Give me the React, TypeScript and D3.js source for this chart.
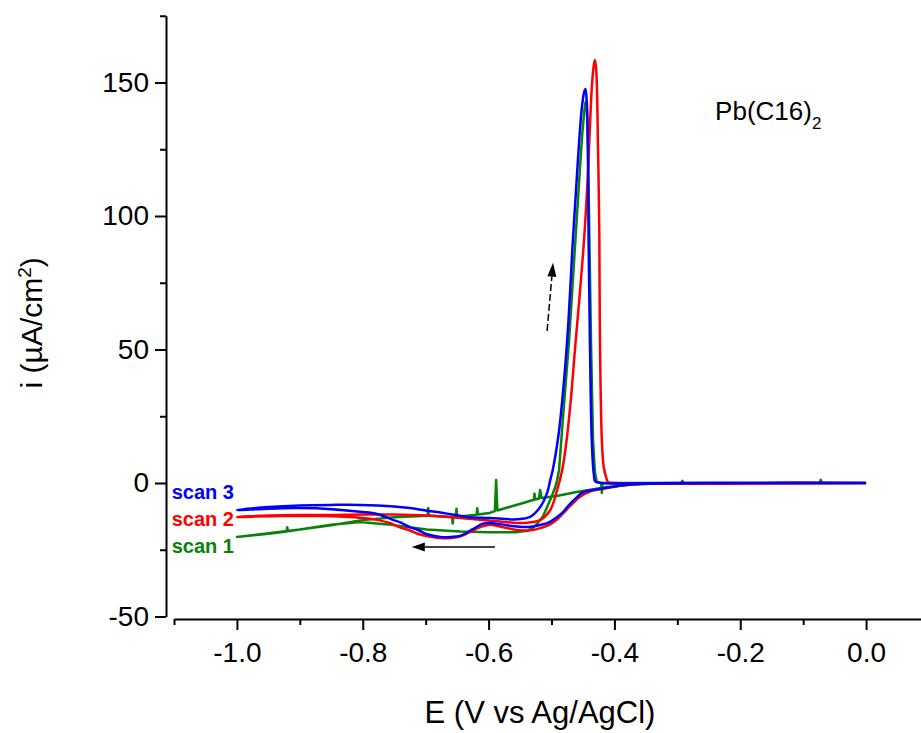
import React, { useEffect, useRef } from "react";
import * as d3 from "d3";

const W = 921;
const H = 733;

// x axis: potential (V vs Ag/AgCl), y axis: current density (uA/cm2)
const xMajor = [-1.0, -0.8, -0.6, -0.4, -0.2, 0.0];
const xMinor = [-1.1, -0.9, -0.7, -0.5, -0.3, -0.1, 0.1];
const yMajor = [-50, 0, 50, 100, 150];
const yMinor = [-25, 25, 75, 125, 175];

// scan 1 (green) - cathodic sweep from 0 V then anodic sweep back
const scan1: [number, number][] = [
  [0, 0], [-0.07, 0], [-0.072, 1.2], [-0.074, 0], [-0.29, 0], [-0.292, 0.8], [-0.294, 0],
  [-0.36, -0.3], [-0.375, -0.7], [-0.412, -1.5], [-0.44, -2.6], [-0.46, -3.4], [-0.49, -4.8],
  [-0.516, -5.6], [-0.518, -2.6], [-0.52, -5.8], [-0.526, -6.2], [-0.527, -4], [-0.528, -6.3],
  [-0.545, -7.5], [-0.57, -9.2], [-0.586, -10.3], [-0.588, 1.1], [-0.59, -10.5], [-0.598, -11.2],
  [-0.617, -11.8], [-0.618, -9.5], [-0.619, -11.9], [-0.65, -12.6], [-0.651, -9.6], [-0.652, -12.6],
  [-0.656, -12.7], [-0.657, -15.2], [-0.658, -12.7], [-0.695, -12.3], [-0.696, -9.4], [-0.697, -12.3],
  [-0.75, -12.8], [-0.804, -14], [-0.85, -15.8], [-0.9, -17.4], [-0.919, -18.1], [-0.92, -16.6],
  [-0.921, -18.2], [-0.95, -19], [-1.0, -20.2],
  [-0.95, -18.8], [-0.9, -17.4], [-0.85, -15.6], [-0.804, -14.6], [-0.76, -15.5], [-0.72, -16.8],
  [-0.698, -17.4], [-0.645, -18.2], [-0.6, -18.4], [-0.555, -18.4], [-0.54, -18], [-0.53, -16.9],
  [-0.522, -15], [-0.514, -12.7], [-0.507, -9], [-0.5, -5.2], [-0.494, -1.5], [-0.491, 1.1],
  [-0.488, 4.9], [-0.482, 23.6], [-0.472, 53.6], [-0.462, 91], [-0.455, 117], [-0.451, 131],
  [-0.448, 139], [-0.446, 142.5], [-0.445, 143], [-0.444, 141], [-0.443, 135], [-0.441, 110],
  [-0.439, 80], [-0.437, 50], [-0.434, 16], [-0.431, 4], [-0.428, 0.5], [-0.421, 0], [-0.42, -3.7],
  [-0.419, 0], [-0.3, 0], [0, 0],
];

// scan 2 (red)
const scan2: [number, number][] = [
  [0, 0], [-0.2, 0], [-0.375, -0.6], [-0.412, -1.9], [-0.439, -3.2], [-0.455, -5.2],
  [-0.47, -8.5], [-0.482, -11.5], [-0.491, -13.6], [-0.502, -15.5], [-0.518, -16.9],
  [-0.53, -17.6], [-0.545, -17.8], [-0.56, -17.4], [-0.582, -16.3], [-0.598, -15.6],
  [-0.614, -16.6], [-0.63, -18.4], [-0.645, -20], [-0.66, -20.6], [-0.677, -20.6],
  [-0.695, -20], [-0.709, -19.3], [-0.725, -17.8], [-0.741, -16.6], [-0.757, -15],
  [-0.775, -13.9], [-0.8, -13.1], [-0.83, -12.6], [-0.87, -12.4], [-0.93, -12.4], [-1.0, -12.7],
  [-0.95, -12.2], [-0.9, -12], [-0.85, -12], [-0.804, -11.8], [-0.75, -11.8], [-0.698, -12.2],
  [-0.645, -13.1], [-0.6, -14], [-0.565, -14.8], [-0.545, -15], [-0.53, -14.6], [-0.518, -13.9],
  [-0.502, -10.1], [-0.491, -2.6], [-0.483, 4.9], [-0.476, 16], [-0.469, 32], [-0.462, 52],
  [-0.455, 71], [-0.448, 92], [-0.443, 112], [-0.439, 133], [-0.436, 148], [-0.433, 156],
  [-0.431, 158.4], [-0.429, 155], [-0.426, 124.7], [-0.424, 93.6], [-0.423, 53.6], [-0.42, 16.1],
  [-0.417, 6], [-0.413, 2], [-0.41, 0.3], [-0.4, 0], [0, 0],
];

// scan 3 (blue)
const scan3: [number, number][] = [
  [0, 0], [-0.2, 0], [-0.375, -0.6], [-0.412, -1.8], [-0.434, -2.6], [-0.45, -3.4],
  [-0.459, -5.2], [-0.467, -7], [-0.475, -9], [-0.483, -11.2], [-0.491, -12.7],
  [-0.505, -14.8], [-0.518, -15.7], [-0.53, -16.3], [-0.545, -16.5], [-0.56, -16.2],
  [-0.58, -15.5], [-0.598, -15], [-0.61, -15.3], [-0.625, -17.3], [-0.645, -19.8],
  [-0.66, -20.2], [-0.677, -20.2], [-0.698, -19.2], [-0.712, -17.6], [-0.725, -16.5],
  [-0.74, -14.8], [-0.752, -13.8], [-0.777, -11.6], [-0.804, -10.8], [-0.85, -9.8],
  [-0.9, -9.4], [-0.95, -9.6], [-1.0, -10.1],
  [-0.95, -9], [-0.9, -8.4], [-0.85, -8.2], [-0.804, -8.2], [-0.75, -8.8], [-0.725, -9.4],
  [-0.7, -10.3], [-0.672, -11.2], [-0.634, -12.7], [-0.598, -13.1], [-0.555, -13.6],
  [-0.534, -12.7], [-0.518, -9], [-0.507, -3.7], [-0.502, 1.1], [-0.498, 4.9], [-0.49, 16],
  [-0.486, 23.6], [-0.475, 53.6], [-0.466, 91], [-0.458, 121], [-0.452, 140], [-0.448, 146.5],
  [-0.446, 147.6], [-0.444, 143], [-0.442, 125], [-0.441, 90], [-0.439, 54], [-0.436, 16],
  [-0.433, 4], [-0.43, 0.5], [-0.42, 0], [-0.3, 0], [0, 0],
];

const series = [
  { name: "scan 1", color: "#0a820a", data: scan1, smooth: false },
  { name: "scan 2", color: "#ff0000", data: scan2, smooth: true },
  { name: "scan 3", color: "#0000ff", data: scan3, smooth: true },
];

// sweep direction arrows [from, to] in data units
const arrowUp: [number, number][] = [[-0.507, 57], [-0.4975, 82.5]];
const arrowLeft: [number, number][] = [[-0.59, -24], [-0.722, -24]];

const FONT = "'Liberation Sans', Arial, sans-serif";

export default function App() {
  const ref = useRef<SVGSVGElement>(null);

  useEffect(() => {
    const svg = d3.select(ref.current);
    svg.selectAll("*").remove();

    const x = d3.scaleLinear().domain([-1.1, 0.1]).range([174, 929]);
    const y = d3.scaleLinear().domain([-50, 175]).range([616.5, 15.75]);

    const yAxisX = 166;
    const xAxisY = 619;

    // y axis
    const gy = svg.append("g").attr("transform", `translate(${yAxisX},0)`);
    gy.call(
      d3.axisLeft(y).tickValues(yMajor).tickSize(11).tickSizeOuter(0).tickPadding(6)
        .tickFormat((d: any) => String(d))
    );
    gy.append("g").call(
      d3.axisLeft(y).tickValues(yMinor).tickSize(6).tickSizeOuter(0).tickFormat(() => "")
    ).select(".domain").remove();

    // x axis
    const gx = svg.append("g").attr("transform", `translate(0,${xAxisY})`);
    gx.call(
      d3.axisBottom(x).tickValues(xMajor).tickSize(11).tickSizeOuter(0).tickPadding(12)
        .tickFormat((d: any) => (+d).toFixed(1))
    );
    gx.append("g").call(
      d3.axisBottom(x).tickValues(xMinor).tickSize(6).tickSizeOuter(0).tickFormat(() => "")
    ).select(".domain").remove();

    svg.selectAll(".domain, .tick line")
      .attr("stroke", "#000")
      .attr("stroke-width", 2);
    svg.selectAll(".tick text")
      .attr("fill", "#000")
      .style("font-family", FONT)
      .style("font-size", "28px");

    // curves
    const smoothLine = d3.line<[number, number]>()
      .x(d => x(d[0]))
      .y(d => y(d[1]))
      .curve(d3.curveCatmullRom.alpha(0.5));
    const rawLine = d3.line<[number, number]>()
      .x(d => x(d[0]))
      .y(d => y(d[1]));

    series.forEach(s => {
      svg.append("path")
        .datum(s.data)
        .attr("fill", "none")
        .attr("stroke", s.color)
        .attr("stroke-width", 2.5)
        .attr("stroke-linejoin", "round")
        .attr("d", s.smooth ? smoothLine : rawLine);
    });

    // series labels at the start of each curve
    const labelY = [-26.2, -16.1, -6];
    series.forEach((s, k) => {
      svg.append("text")
        .attr("x", x(-1.0) - 3)
        .attr("y", y(labelY[k]))
        .attr("text-anchor", "end")
        .attr("fill", s.color)
        .style("font-family", FONT)
        .style("font-weight", "bold")
        .style("font-size", "20px")
        .text(s.name);
    });

    // arrows
    const drawHead = (p0: [number, number], p1: [number, number], len: number, half: number) => {
      const dx = p1[0] - p0[0], dy = p1[1] - p0[1];
      const L = Math.hypot(dx, dy);
      const ux = dx / L, uy = dy / L;
      const bx = p1[0] - ux * len, by = p1[1] - uy * len;
      svg.append("path")
        .attr("d", `M${p1[0]},${p1[1]}L${bx - uy * half},${by + ux * half}L${bx + uy * half},${by - ux * half}Z`)
        .attr("fill", "#000");
      return [bx, by];
    };

    const up0: [number, number] = [x(arrowUp[0][0]), y(arrowUp[0][1])];
    const up1: [number, number] = [x(arrowUp[1][0]), y(arrowUp[1][1])];
    const upBase = drawHead(up0, up1, 14, 4.5);
    svg.append("line")
      .attr("x1", up0[0]).attr("y1", up0[1])
      .attr("x2", upBase[0]).attr("y2", upBase[1])
      .attr("stroke", "#000").attr("stroke-width", 1.5)
      .attr("stroke-dasharray", "7,3");

    const l0: [number, number] = [x(arrowLeft[0][0]), y(arrowLeft[0][1])];
    const l1: [number, number] = [x(arrowLeft[1][0]), y(arrowLeft[1][1])];
    const lBase = drawHead(l0, l1, 13, 4.5);
    svg.append("line")
      .attr("x1", l0[0]).attr("y1", l0[1])
      .attr("x2", lBase[0]).attr("y2", lBase[1])
      .attr("stroke", "#000").attr("stroke-width", 1.5);

    // compound label
    const pb = svg.append("text")
      .attr("x", x(-0.24))
      .attr("y", y(136))
      .attr("fill", "#000")
      .style("font-family", FONT)
      .style("font-size", "26px");
    pb.append("tspan").text("Pb(C16)");
    pb.append("tspan").attr("dy", 9).style("font-size", "17px").text("2");

    // axis titles
    svg.append("text")
      .attr("x", 540)
      .attr("y", 723)
      .attr("text-anchor", "middle")
      .attr("fill", "#000")
      .style("font-family", FONT)
      .style("font-size", "31px")
      .text("E (V vs Ag/AgCl)");

    const yt = svg.append("text")
      .attr("transform", `translate(42,${y(60)}) rotate(-90)`)
      .attr("text-anchor", "middle")
      .attr("fill", "#000")
      .style("font-family", FONT)
      .style("font-size", "30px");
    yt.append("tspan").text("i (\u00b5A/cm");
    yt.append("tspan").attr("dy", -11).style("font-size", "19px").text("2");
    yt.append("tspan").attr("dy", 11).text(")");
  }, []);

  return (
    <svg
      ref={ref}
      width={W}
      height={H}
      style={{ position: "absolute", left: 0, top: 0, background: "#fff" }}
    />
  );
}
